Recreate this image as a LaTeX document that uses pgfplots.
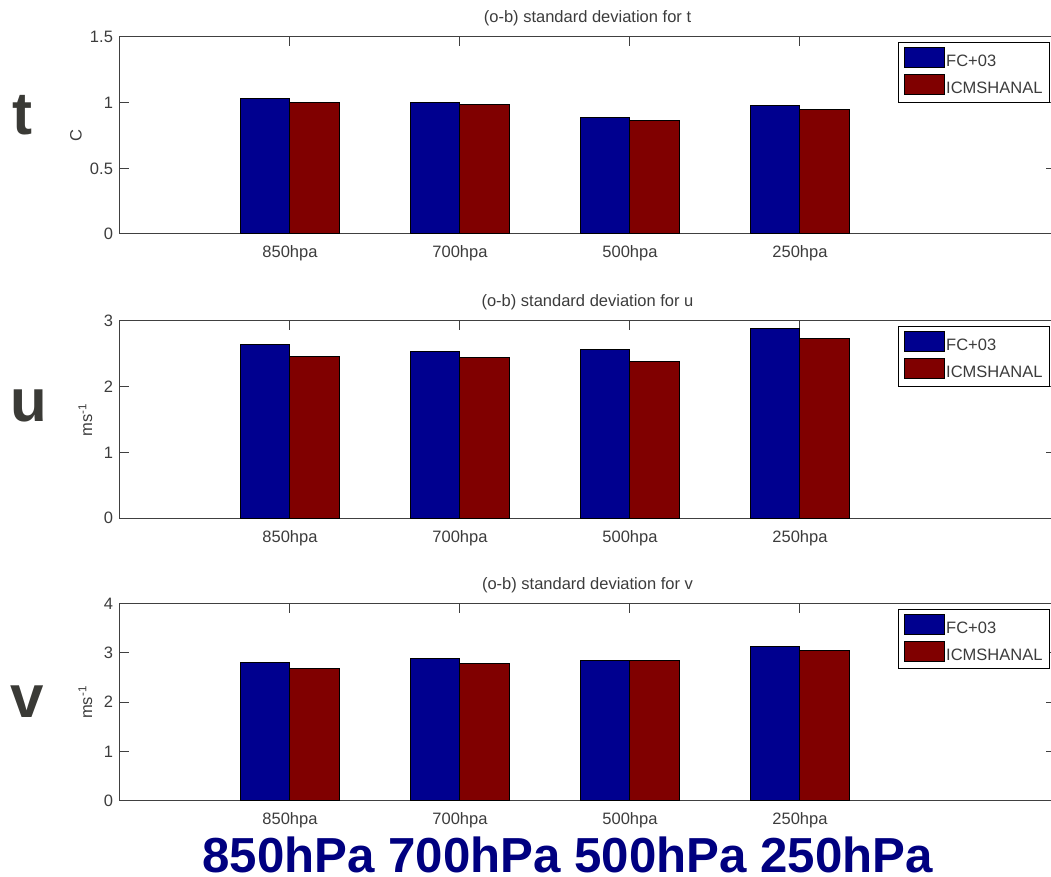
\documentclass[border=0pt]{standalone}
\usepackage{fontspec}
\setmainfont{Liberation Sans}
\usepackage{pgfplots}
\pgfplotsset{compat=1.18}

\definecolor{fcblue}{RGB}{0,0,143}
\definecolor{icred}{RGB}{128,0,0}
\definecolor{txtgray}{RGB}{60,60,60}
\definecolor{bigblue}{RGB}{0,0,128}
\definecolor{lettergray}{RGB}{58,58,54}

% 1 px of the reference = 0.5pt
\pgfplotsset{
  legpatch/.style={legend image code/.code={
      \draw[##1, draw=black, line width=0.5pt] (0pt,-2.6pt) rectangle (20pt,7.4pt);}},
  fcbar/.style={fill=fcblue, draw=black, line width=0.5pt, legpatch},
  icbar/.style={fill=icred, draw=black, line width=0.5pt, legpatch},
  panel/.style={
    width=467.5pt, height=98.5pt, scale only axis,
    anchor=north west,
    ybar=0pt, bar width=24.75pt,
    xmin=0, xmax=5.5, ymin=0,
    xtick={1,2,3,4},
    xticklabels={850hpa,700hpa,500hpa,250hpa},
    tick align=inside, tick pos=both,
    major tick length=4.5pt,
    axis line style={black!75, line width=0.5pt},
    every tick/.style={black!75, line width=0.5pt},
    font=\fontsize{8.25}{10}\selectfont,
    tick label style={text=txtgray},
    /pgf/number format/assume math mode=true,
    xticklabel style={anchor=base, yshift=-12pt},
    title style={at={(axis description cs:0.5,1)}, anchor=base, yshift=1pt, text=txtgray},
    ylabel style={anchor=center, text=txtgray},
    legend style={at={(axis description cs:1,1)}, anchor=north east,
      xshift=-2.5pt, yshift=-2.5pt, draw=black, line width=0.5pt,
      inner xsep=3pt, inner ysep=2.3pt, row sep=1.6pt,
      nodes={inner sep=0.5pt, text=txtgray}},
    legend cell align=left,
  },
}

\begin{document}
\begin{tikzpicture}
\useasboundingbox (0,0) rectangle (525.5pt,-438.5pt);

% temperature
\begin{axis}[panel, at={(60pt,-18.5pt)},
  ymax=1.5, ytick={0,0.5,1,1.5},
  title={(o-b) standard deviation for t},
  ylabel={C}, ylabel style={at={(axis description cs:-0.047,0.5)}}]
\addplot[fcbar] coordinates {(1,1.03) (2,0.998) (3,0.885) (4,0.977)};
\addplot[icbar] coordinates {(1,0.998) (2,0.985) (3,0.861) (4,0.947)};
\legend{FC+03,ICMSHANAL}
\end{axis}

% u wind
\begin{axis}[panel, at={(60pt,-160.5pt)},
  ymax=3, ytick={0,1,2,3},
  title={(o-b) standard deviation for u},
  ylabel={ms\textsuperscript{-1}}, ylabel style={at={(axis description cs:-0.037,0.5)}}]
\addplot[fcbar] coordinates {(1,2.64) (2,2.54) (3,2.56) (4,2.89)};
\addplot[icbar] coordinates {(1,2.46) (2,2.44) (3,2.39) (4,2.74)};
\legend{FC+03,ICMSHANAL}
\end{axis}

% v wind
\begin{axis}[panel, at={(60pt,-301.85pt)},
  ymax=4, ytick={0,1,2,3,4},
  title={(o-b) standard deviation for v},
  ylabel={ms\textsuperscript{-1}}, ylabel style={at={(axis description cs:-0.037,0.5)}}]
\addplot[fcbar] coordinates {(1,2.81) (2,2.89) (3,2.85) (4,3.14)};
\addplot[icbar] coordinates {(1,2.69) (2,2.79) (3,2.84) (4,3.05)};
\legend{FC+03,ICMSHANAL}
\end{axis}

\node[inner sep=0pt, text=lettergray, font=\fontsize{30}{34}\selectfont\bfseries] at (11pt,-57.5pt) {t};
\node[inner sep=0pt, text=lettergray, font=\fontsize{30}{34}\selectfont\bfseries] at (14.5pt,-203pt) {u};
\node[inner sep=0pt, text=lettergray, font=\fontsize{30}{34}\selectfont\bfseries] at (13.5pt,-351pt) {v};

\node[anchor=base, inner sep=0pt, text=bigblue, font=\fontsize{24.6}{28}\selectfont\bfseries]
  at (283.8pt,-436pt) {850hPa\ 700hPa\ 500hPa\ 250hPa};
\end{tikzpicture}
\end{document}
